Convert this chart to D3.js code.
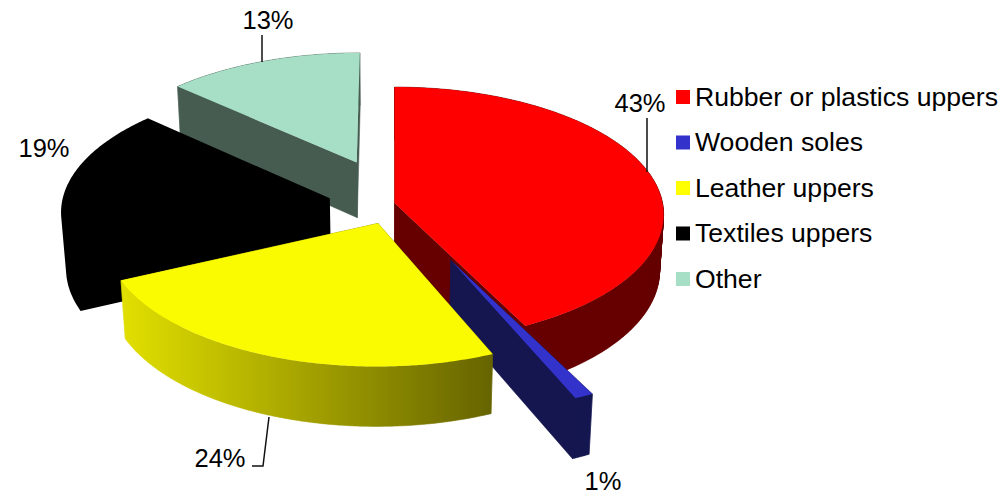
<!DOCTYPE html>
<html>
<head>
<meta charset="utf-8">
<script src="https://cdn.jsdelivr.net/npm/d3@7/dist/d3.min.js"></script>
<style>
html, body { margin: 0; padding: 0; background: #fff; }
text { font-family: "Liberation Sans", Arial, sans-serif; fill: #000; }
</style>
</head>
<body>
<svg id="chart" width="1005" height="494"></svg>
<script>
const categories = ['Rubber or plastics uppers', 'Wooden soles', 'Leather uppers', 'Textiles uppers', 'Other'];
const shares = [42.6, 1.0, 24.45, 18.75, 13.2];
const explodes = [0, 0.48, 0.17, 0.245, 0.36];
const topColors = ['#ff0000', '#3333cc', '#fafa00', '#000000', '#a6dfc6'];
const legendColors = ['#ff0000', '#3333cc', '#ffff00', '#000000', '#a6dfc6'];
const wallColors = ['#660000', '#151650', 'url(#leather)', '#000000', '#475c50'];

// painter's order, back to front
const drawOrder = [4, 3, 0, 1, 2];

const centerX = 394.5;
const centerY = 203;
const radiusX = 268;
const radiusY = 126.4;
const depth = 57;
const perspective = 0.09;
const bottomShrink = 0.015;

const svg = d3.select('#chart');

const defs = svg.append('defs');
const leather = defs.append('linearGradient')
    .attr('id', 'leather')
    .attr('gradientUnits', 'userSpaceOnUse')
    .attr('x1', 120).attr('x2', 492)
    .attr('y1', 0).attr('y2', 0);
leather.append('stop').attr('offset', 0).attr('stop-color', '#e2e000');
leather.append('stop').attr('offset', 1).attr('stop-color', '#666400');

function project(wx, wy, z) {
    const s = 1 / (1 + perspective * wy + bottomShrink * z);
    return [centerX + radiusX * wx * s, centerY - radiusY * wy * s + depth * z * s];
}

const slices = d3.pie().sort(null).value(d => d)(shares);

const line = d3.line();

// every sub-shape wound the same way so overlaps never cancel
function wound(points) {
    const copy = points.slice();
    if (d3.polygonArea(copy) < 0) {
        copy.reverse();
    }
    return line(copy) + 'Z';
}

function rimPoints(slice, offset, z) {
    const n = Math.ceil((slice.endAngle - slice.startAngle) / 0.01);
    return d3.range(n + 1).map((i) => {
        const a = slice.startAngle + (slice.endAngle - slice.startAngle) * i / n;
        return project(offset[0] + Math.sin(a), offset[1] + Math.cos(a), z);
    });
}

function edgeWall(offset, angle) {
    const wx = offset[0] + Math.sin(angle);
    const wy = offset[1] + Math.cos(angle);
    return [
        project(offset[0], offset[1], 0),
        project(wx, wy, 0),
        project(wx, wy, 1),
        project(offset[0], offset[1], 1)
    ];
}

function rimPath(upper, lower) {
    return d3.range(upper.length - 1)
        .map(k => wound([upper[k], upper[k + 1], lower[k + 1], lower[k]]))
        .join('');
}

drawOrder.forEach((i) => {
    const slice = slices[i];
    const mid = (slice.startAngle + slice.endAngle) / 2;
    const offset = [explodes[i] * Math.sin(mid), explodes[i] * Math.cos(mid)];
    const g = svg.append('g');
    const upper = rimPoints(slice, offset, 0);
    const lower = rimPoints(slice, offset, 1);

    const walls = wound(edgeWall(offset, slice.startAngle)) + wound(edgeWall(offset, slice.endAngle));
    const sides = walls + rimPath(upper, lower);
    const top = wound([project(offset[0], offset[1], 0)].concat(upper));

    // same colour on both: one path, so no seams show between the faces
    if (wallColors[i] === topColors[i]) {
        g.append('path').attr('d', sides + top).attr('fill', topColors[i]);
        return;
    }

    g.append('path')
        .attr('d', sides)
        .attr('fill', wallColors[i])
        .attr('stroke', wallColors[i])
        .attr('stroke-width', 0.5);

    g.append('path')
        .attr('d', top)
        .attr('fill', topColors[i]);
});

// legend
const legendY = d3.scalePoint().domain(categories).range([97, 279]);
const legend = svg.append('g');
categories.forEach((name, i) => {
    legend.append('rect')
        .attr('x', 676)
        .attr('y', legendY(name) - 7)
        .attr('width', 14)
        .attr('height', 14)
        .attr('fill', legendColors[i]);
    legend.append('text')
        .attr('x', 695)
        .attr('y', legendY(name) + 8.5)
        .attr('font-size', 26.6)
        .text(name);
});

// data labels
const labelSpots = [[640, 112], [603, 490], [220, 467], [44, 157], [268, 29]];
shares.forEach((v, i) => {
    svg.append('text')
        .attr('x', labelSpots[i][0])
        .attr('y', labelSpots[i][1])
        .attr('text-anchor', 'middle')
        .attr('font-size', 25.5)
        .text(`${Math.round(v)}%`);
});

// leader lines
const leaders = [
    [[647, 118], [647, 172]],
    [[262, 35], [262, 62]],
    [[269, 417], [263, 466], [252, 466]]
];
leaders.forEach((pts) => {
    svg.append('path')
        .attr('d', line(pts))
        .attr('fill', 'none')
        .attr('stroke', '#111')
        .attr('stroke-width', 1.5);
});
</script>
</body>
</html>
